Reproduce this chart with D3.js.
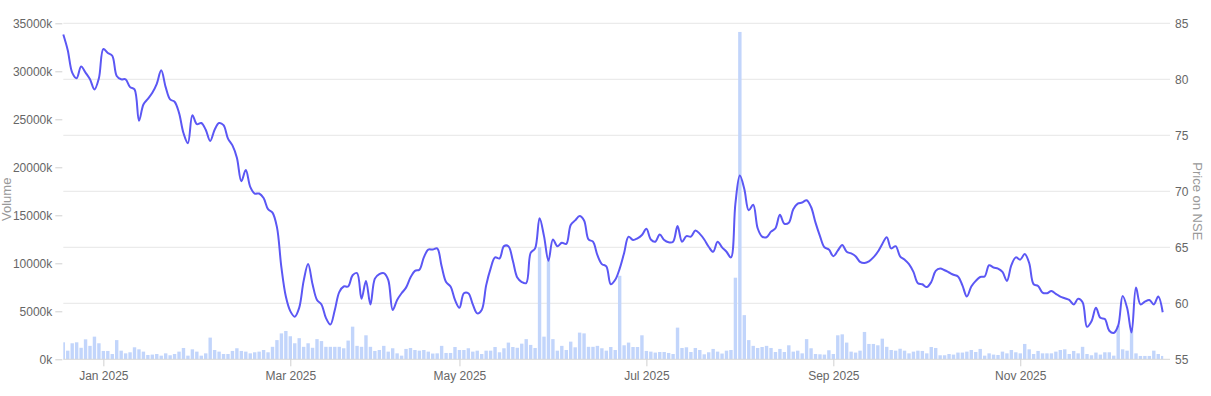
<!DOCTYPE html>
<html>
<head>
<meta charset="utf-8">
<script src="https://cdn.jsdelivr.net/npm/d3@7"></script>
<style>
  body { margin: 0; background: #fff; }
  text { font-family: "Liberation Sans", Arial, sans-serif; }
</style>
</head>
<body>
<div class="graph"></div>
<script>
// trading calendar (NSE)
var startDate = "2024-12-18";
var endDate = "2025-12-18";
var holidays = ["2024-12-25", "2025-02-26", "2025-03-14", "2025-03-31", "2025-04-10",
  "2025-04-14", "2025-04-18", "2025-05-01", "2025-08-15", "2025-08-27",
  "2025-10-02", "2025-10-21", "2025-10-22", "2025-11-05"];

// daily volume, in thousands
var volume = [
  1770, 900, 1670, 1770, 1200, 2080, 1400, 2360, 1670, 870,
  870, 550, 2000, 900, 620, 730, 1250, 1040, 800, 450,
  490, 550, 380, 620, 420, 550, 800, 1180, 380, 1040,
  800, 380, 620, 2260, 970, 800, 550, 550, 870, 1150,
  870, 800, 620, 730, 800, 970, 730, 1300,
  2000, 2700, 2950, 2400, 1670, 2200, 1300, 1670, 1200, 2100,
  1900, 1300, 1300, 1300, 1300, 1150, 1950, 3400, 1400, 1300,
  2500, 1300, 870, 970, 1400, 800, 1150, 620, 380, 1080,
  1180, 970, 900, 970, 800, 600, 620, 1400, 660, 660,
  1280, 970, 970, 1150, 800, 900, 550, 900, 900, 1280,
  730, 1150, 1740, 1280, 1200, 1630, 2100, 1500, 1180, 11700,
  2360, 10300, 2100, 900, 1400, 970, 1840, 1250,
  2780, 2700, 1300, 1300, 1400, 1150, 900, 1280, 970, 8700,
  1460, 1740, 1280, 1280, 2500, 870, 800, 700, 760, 760,
  660, 550, 3300, 1180, 1250, 760, 1180, 970, 520, 730,
  1080, 800, 600, 900, 970, 8500, 34100, 4600, 2000, 1400,
  1180, 1280, 1400, 1180, 760, 1080, 760, 1460, 800, 900,
  620, 2100, 1150, 550, 520, 490, 940, 550, 2500, 2600,
  1740, 800, 700, 900, 2850, 1600, 1600, 1460,
  2150, 1300, 970, 900, 1100, 900, 620, 800, 900, 870,
  620, 1280, 1180, 420, 420, 550, 490, 700, 700, 800,
  970, 760, 1080, 380, 620, 490, 450, 800, 620, 970,
  730, 620, 1600, 1040, 550, 870, 620, 620, 620, 800,
  970, 1040, 550, 870, 620, 1300, 550, 420, 700, 490,
  730, 730, 380, 3500, 1040, 900, 3160, 620, 350, 350,
  350, 900, 550, 350
];

// closing price on NSE
var price = [
  84.0, 82.6, 80.6, 80.1, 81.15, 80.6, 80.0, 79.1, 80.1, 82.7,
  82.35, 82.1, 80.3, 80.0, 80.0, 79.3, 79.1, 76.3, 77.75, 78.25,
  78.8, 79.6, 80.8, 79.3, 78.2, 78.0, 77.0, 75.2, 74.3, 76.8,
  76.0, 76.1, 75.5, 74.5, 75.5, 76.1, 75.9, 74.7, 74.1, 73.0,
  70.9, 71.9, 70.4, 69.8, 69.8, 69.4, 68.4, 68.1, 66.8, 63.2,
  60.6, 59.3, 58.8, 59.6, 62.0, 63.5, 61.7, 60.3, 59.9, 58.7,
  58.1, 59.4, 61.0, 61.5, 61.5, 62.5, 62.7, 60.4, 62.0, 59.9,
  62.2, 62.6, 62.7, 62.1, 59.4, 60.3, 60.9, 61.4, 62.3, 62.9,
  63.0, 64.1, 64.8, 64.8, 64.9, 63.3, 61.9, 61.5, 60.3, 59.6,
  60.9, 60.9, 59.9, 59.1, 59.4, 61.6, 63.1, 64.1, 64.0, 65.1,
  65.1, 63.8, 62.3, 61.9, 61.8, 64.5, 64.9, 67.6, 66.0, 63.8,
  65.7, 65.1, 65.4, 65.3, 67.0, 67.4, 67.8, 67.4, 65.7, 65.5,
  64.3, 63.5, 63.3, 61.7, 62.1, 63.1, 64.5, 65.95, 65.65, 65.8,
  66.1, 66.65, 65.7, 65.5, 66.15, 65.65, 65.45, 65.5, 66.9, 65.5,
  66.0, 65.95, 66.5, 66.2, 65.7, 65.05, 64.6, 65.5, 65.0, 64.6,
  64.1, 68.9, 71.4, 70.2, 68.3, 68.8, 66.7, 65.95, 65.9, 66.4,
  66.7, 67.9, 67.1, 67.2, 68.4, 68.9, 69.0, 69.2, 68.6, 67.2,
  66.0, 65.0, 64.8, 64.2, 64.7, 65.2, 64.6, 64.45, 64.2, 63.7,
  63.6, 63.75, 64.1, 64.6, 65.3, 65.9, 64.9, 65.1, 64.2, 63.9,
  63.5, 62.8, 61.8, 61.7, 61.45, 61.9, 62.9, 63.1, 62.95, 62.75,
  62.55, 62.4, 61.6, 60.6, 61.5, 62.0, 62.35, 62.4, 63.4, 63.2,
  63.1, 62.8, 62.0, 63.4, 64.1, 63.9, 64.4, 63.6, 61.7, 61.55,
  60.95, 60.9, 61.1, 60.85, 60.6, 60.45, 60.3, 59.9, 60.4, 60.1,
  57.9, 58.4, 59.6, 58.7, 58.6, 57.55, 57.35, 58.0, 60.65, 59.6,
  57.4, 61.4, 59.9, 60.15, 60.3, 59.9, 60.6, 59.2
];

var volumeTicks = [0, 5000, 10000, 15000, 20000, 25000, 30000, 35000];
var priceTicks = [55, 60, 65, 70, 75, 80, 85];
var monthTicks = ["2025-01", "2025-03", "2025-05", "2025-07", "2025-09", "2025-11"];
var monthNames = {"01": "Jan", "03": "Mar", "05": "May", "07": "Jul", "09": "Sep", "11": "Nov"};

// build the trading days
var fmt = d3.utcFormat("%Y-%m-%d");
var days = [];
d3.utcDay.range(new Date(startDate + "T00:00:00Z"), new Date(endDate + "T00:00:01Z")).forEach(function(d) {
  var wd = d.getUTCDay();
  var s = fmt(d);
  if (wd !== 0 && wd !== 6 && holidays.indexOf(s) < 0) days.push(s);
});

var basewidth = 1211, baseheight = 396;
var plotLeft = 63.3, plotRight = 1162.7, plotTop = 23.3, plotBottom = 359.3, gridRight = 1170;

var svg = d3.select('.graph')
  .append('svg')
  .attr('width', basewidth)
  .attr('height', baseheight);

var x = d3.scaleLinear().domain([0, volume.length - 1]).range([plotLeft, plotRight]);
var yV = d3.scaleLinear().domain([0, 35000]).range([plotBottom, plotTop]);
var yP = d3.scaleLinear().domain([55, 85]).range([plotBottom, plotTop]);

// gridlines from price axis
svg.append('g').selectAll('line')
  .data(priceTicks.slice(1))
  .enter().append('line')
  .attr('x1', plotLeft).attr('x2', gridRight)
  .attr('y1', function(d) { return yP(d); })
  .attr('y2', function(d) { return yP(d); })
  .style('stroke', '#e6e6e6')
  .style('stroke-width', 1);

// volume bars
var barW = 3.4;
svg.append('g').selectAll('rect')
  .data(volume)
  .enter().append('rect')
  .attr('x', function(d, i) { return Math.max(plotLeft, x(i) - barW / 2); })
  .attr('width', function(d, i) {
    var x0 = Math.max(plotLeft, x(i) - barW / 2), x1 = Math.min(plotRight + 0.5, x(i) + barW / 2);
    return x1 - x0;
  })
  .attr('y', function(d) { return yV(d); })
  .attr('height', function(d) { return plotBottom - yV(d); })
  .style('fill', '#c2d5fb');

// baseline
svg.append('line')
  .attr('x1', plotLeft).attr('x2', gridRight)
  .attr('y1', plotBottom).attr('y2', plotBottom)
  .style('stroke', '#d8d8d8');

// price line
var line = d3.line()
  .x(function(d, i) { return x(i); })
  .y(function(d) { return yP(d); })
  .curve(d3.curveCatmullRom.alpha(0.5));

svg.append('path')
  .datum(price)
  .attr('d', line)
  .style('fill', 'none')
  .style('stroke', '#5b57f4')
  .style('stroke-width', 2)
  .attr('stroke-linejoin', 'round');

// left axis
var axL = svg.append('g')
  .attr('transform', 'translate(' + (plotLeft - 1) + ',0)')
  .call(d3.axisLeft(yV).tickValues(volumeTicks).tickSize(7).tickPadding(3)
    .tickFormat(function(d) { return d + 'k'; }));
axL.select('.domain').remove();
axL.selectAll('.tick line').style('stroke', '#d0d0d0');
axL.selectAll('text').style('fill', '#666').style('font-size', '12px');

// right axis
var axR = svg.append('g')
  .attr('transform', 'translate(' + gridRight + ',0)')
  .call(d3.axisRight(yP).tickValues(priceTicks).tickSize(0).tickPadding(5));
axR.select('.domain').remove();
axR.selectAll('text').style('fill', '#666').style('font-size', '12px');

// bottom axis, first trading day of each month
var tickIdx = monthTicks.map(function(m) {
  for (var i = 0; i < days.length; i++) if (days[i].slice(0, 7) === m) return i;
});
var axB = svg.append('g')
  .attr('transform', 'translate(0,' + plotBottom + ')')
  .call(d3.axisBottom(x).tickValues(tickIdx).tickSize(7).tickPadding(5)
    .tickFormat(function(i) {
      var s = days[i];
      return monthNames[s.slice(5, 7)] + ' ' + s.slice(0, 4);
    }));
axB.select('.domain').remove();
axB.selectAll('.tick line').style('stroke', '#d0d0d0');
axB.selectAll('text').style('fill', '#666').style('font-size', '12px');

// axis titles
svg.append('text')
  .attr('transform', 'translate(11,' + ((plotTop + plotBottom) / 2 + 8) + ') rotate(-90)')
  .attr('text-anchor', 'middle')
  .style('fill', '#999')
  .style('font-size', '13px')
  .text('Volume');

svg.append('text')
  .attr('transform', 'translate(1193,' + ((plotTop + plotBottom) / 2 + 10) + ') rotate(90)')
  .attr('text-anchor', 'middle')
  .style('fill', '#999')
  .style('font-size', '13px')
  .text('Price on NSE');
</script>
</body>
</html>
